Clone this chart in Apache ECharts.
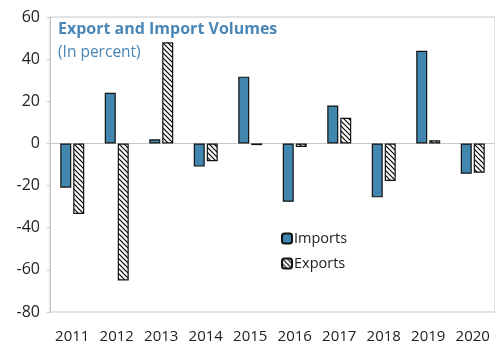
<!DOCTYPE html>
<html>
<head>
<meta charset="utf-8">
<script src="https://cdn.jsdelivr.net/npm/echarts@6/dist/echarts.min.js"></script>
<style>
  html, body { margin: 0; padding: 0; background: #fff; }
  #chart { width: 495px; height: 346px; }
</style>
</head>
<body>
<div id="chart"></div>
<script>
// Annual volume growth, percent
const years = ['2011', '2012', '2013', '2014', '2015', '2016', '2017', '2018', '2019', '2020'];
const imports = [-21, 24, 2, -11, 31.7, -27.7, 18, -25.6, 44, -14.4];
const exports = [-33.5, -65, 48, -8.4, -0.8, -1.7, 12.2, -17.8, 1.5, -13.9];

const FONT = '"Open Sans", "Noto Sans", sans-serif';
const BLUE = '#4186ae';

// Diagonal hatch fill for the export bars
function hatchPattern() {
  const s = 5;
  const c = document.createElement('canvas');
  c.width = s; c.height = s;
  const g = c.getContext('2d');
  g.fillStyle = '#fff';
  g.fillRect(0, 0, s, s);
  g.strokeStyle = '#000';
  g.lineWidth = 1.2;
  g.beginPath();
  g.moveTo(-1, -1); g.lineTo(s + 1, s + 1);
  g.moveTo(-1, s - 1); g.lineTo(1, s + 1);
  g.moveTo(s - 1, -1); g.lineTo(s + 1, 1);
  g.stroke();
  return c;
}

const chart = echarts.init(document.getElementById('chart'), null, { renderer: 'canvas' });
chart.setOption({
  animation: false,
  backgroundColor: '#fff',
  title: {
    text: 'Export and Import Volumes',
    subtext: '(In percent)',
    left: 53,
    top: 16,
    itemGap: 8,
    textStyle: { fontFamily: FONT, fontSize: 16, fontWeight: 'bold', color: '#4a86b6' },
    subtextStyle: { fontFamily: FONT, fontSize: 15.5, color: '#4a86b6' }
  },
  legend: {
    orient: 'vertical',
    left: 276,
    top: 226,
    itemWidth: 10,
    itemHeight: 10,
    itemGap: 10,
    textStyle: { fontFamily: FONT, fontSize: 14.5, color: '#222', padding: [0, 0, 0, -3] },
    data: ['Imports', 'Exports']
  },
  grid: {
    left: 50, right: -1, top: 17, bottom: 34,
    show: true, borderColor: '#c8c8c8', borderWidth: 1
  },
  xAxis: [
    {
      type: 'category',
      data: years,
      axisLine: { onZero: true, lineStyle: { color: '#c8c8c8', width: 1 } },
      axisTick: { inside: true, length: 5, interval: 0, lineStyle: { color: '#c8c8c8' } },
      axisLabel: { show: false }
    },
    {
      type: 'category',
      data: years,
      position: 'bottom',
      axisLine: { show: false, onZero: false },
      axisTick: { show: false },
      axisLabel: { fontFamily: FONT, fontSize: 15, color: '#222', margin: 17, interval: 0, hideOverlap: false }
    }
  ],
  yAxis: {
    type: 'value',
    min: -80, max: 60, interval: 20,
    splitLine: { show: false },
    axisLine: { show: true, lineStyle: { color: '#c8c8c8' } },
    axisTick: { show: true, length: 3, lineStyle: { color: '#c8c8c8' } },
    axisLabel: { fontFamily: FONT, fontSize: 16, color: '#222', margin: 10 }
  },
  series: [
    {
      name: 'Imports',
      type: 'bar',
      xAxisIndex: 0,
      data: imports,
      barWidth: 11,
      barGap: '18%',
      itemStyle: { color: BLUE, borderColor: '#111', borderWidth: 1.2 }
    },
    {
      name: 'Exports',
      type: 'bar',
      xAxisIndex: 0,
      data: exports,
      barWidth: 11,
      barGap: '18%',
      itemStyle: { color: { image: hatchPattern(), repeat: 'repeat' }, borderColor: '#111', borderWidth: 1.2 }
    }
  ]
});
</script>
</body>
</html>
